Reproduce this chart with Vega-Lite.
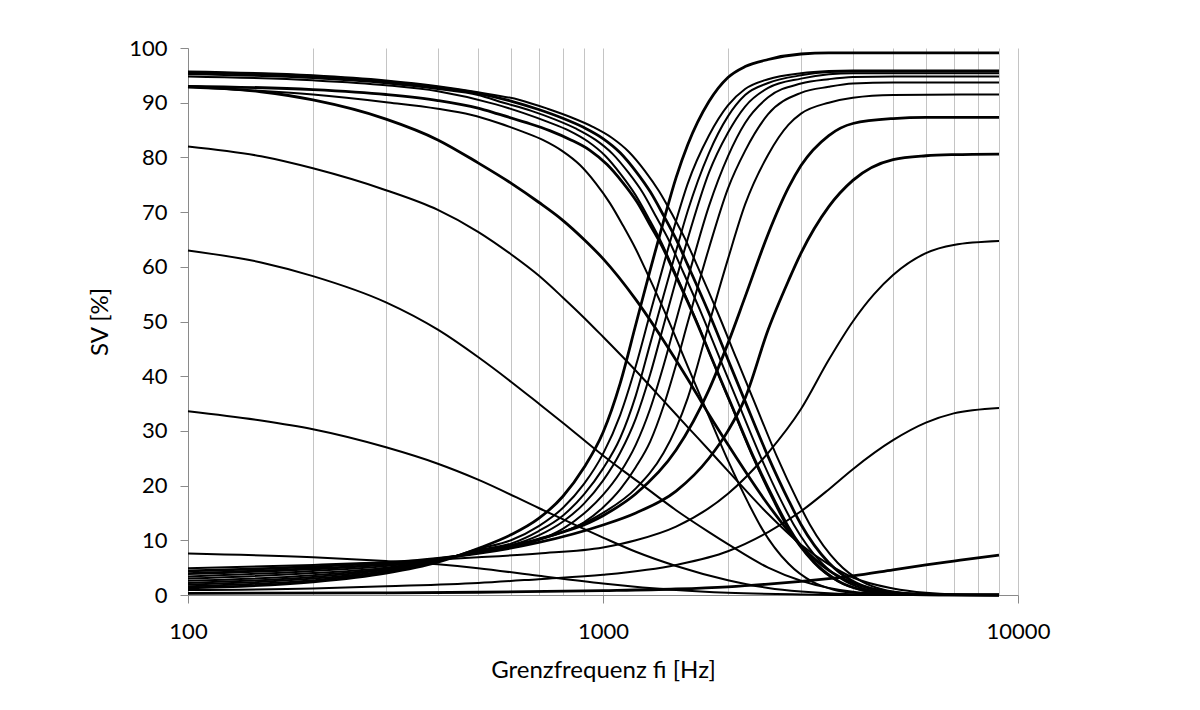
{
  "$schema": "https://vega.github.io/schema/vega-lite/v6.json",
  "width": 830,
  "height": 547,
  "autosize": "none",
  "padding": {"left": 188, "top": 48, "right": 182, "bottom": 115},
  "background": "white",
  "config": {"view": {"stroke": null}, "font": "Lato"},
  "data": {"values": [
    {"s":"I1","f":100,"v":1.3},{"s":"I1","f":200,"v":2.4},{"s":"I1","f":300,"v":4.0},{"s":"I1","f":400,"v":6.0},{"s":"I1","f":500,"v":8.5},{"s":"I1","f":600,"v":11},{"s":"I1","f":700,"v":14},{"s":"I1","f":800,"v":18},{"s":"I1","f":900,"v":23.3},{"s":"I1","f":1000,"v":29.7},{"s":"I1","f":1100,"v":38.7},{"s":"I1","f":1200,"v":49.5},{"s":"I1","f":1300,"v":59.5},{"s":"I1","f":1400,"v":68.4},{"s":"I1","f":1500,"v":76.3},{"s":"I1","f":1600,"v":82.3},{"s":"I1","f":1800,"v":90.2},{"s":"I1","f":2000,"v":94.6},{"s":"I1","f":2200,"v":96.6},{"s":"I1","f":2500,"v":97.9},{"s":"I1","f":3000,"v":98.9},{"s":"I1","f":3500,"v":99.1},{"s":"I1","f":5000,"v":99.1},{"s":"I1","f":9000,"v":99.1},
    {"s":"I2","f":100,"v":1.6},{"s":"I2","f":200,"v":2.7},{"s":"I2","f":300,"v":4.2},{"s":"I2","f":400,"v":6.1},{"s":"I2","f":500,"v":8.4},{"s":"I2","f":600,"v":10.0},{"s":"I2","f":700,"v":12.6},{"s":"I2","f":800,"v":15.9},{"s":"I2","f":900,"v":20.3},{"s":"I2","f":1000,"v":25.8},{"s":"I2","f":1100,"v":32.9},{"s":"I2","f":1200,"v":41.9},{"s":"I2","f":1300,"v":51.6},{"s":"I2","f":1400,"v":60.4},{"s":"I2","f":1500,"v":68.4},{"s":"I2","f":1600,"v":75.2},{"s":"I2","f":1800,"v":84.0},{"s":"I2","f":2000,"v":89.5},{"s":"I2","f":2200,"v":92.5},{"s":"I2","f":2500,"v":94.3},{"s":"I2","f":3000,"v":95.4},{"s":"I2","f":3500,"v":95.8},{"s":"I2","f":4000,"v":95.9},{"s":"I2","f":9000,"v":95.9},
    {"s":"I3","f":100,"v":1.9},{"s":"I3","f":200,"v":3.0},{"s":"I3","f":300,"v":4.4},{"s":"I3","f":400,"v":6.2},{"s":"I3","f":500,"v":8.2},{"s":"I3","f":600,"v":9.4},{"s":"I3","f":700,"v":11.7},{"s":"I3","f":800,"v":14.5},{"s":"I3","f":900,"v":18.4},{"s":"I3","f":1000,"v":23.1},{"s":"I3","f":1100,"v":28.7},{"s":"I3","f":1200,"v":36.5},{"s":"I3","f":1300,"v":46.0},{"s":"I3","f":1400,"v":54.8},{"s":"I3","f":1500,"v":62.9},{"s":"I3","f":1600,"v":70.2},{"s":"I3","f":1800,"v":80.8},{"s":"I3","f":2000,"v":87.5},{"s":"I3","f":2200,"v":91.4},{"s":"I3","f":2500,"v":93.6},{"s":"I3","f":3000,"v":95.0},{"s":"I3","f":3500,"v":95.6},{"s":"I3","f":4000,"v":95.7},{"s":"I3","f":9000,"v":95.7},
    {"s":"I4","f":100,"v":2.2},{"s":"I4","f":200,"v":3.3},{"s":"I4","f":300,"v":4.6},{"s":"I4","f":400,"v":6.3},{"s":"I4","f":500,"v":8.1},{"s":"I4","f":600,"v":9.1},{"s":"I4","f":700,"v":10.9},{"s":"I4","f":800,"v":13.4},{"s":"I4","f":900,"v":16.7},{"s":"I4","f":1000,"v":20.9},{"s":"I4","f":1100,"v":26.0},{"s":"I4","f":1200,"v":32.3},{"s":"I4","f":1300,"v":40.4},{"s":"I4","f":1400,"v":49.3},{"s":"I4","f":1500,"v":57.6},{"s":"I4","f":1600,"v":65.1},{"s":"I4","f":1800,"v":77.2},{"s":"I4","f":2000,"v":84.5},{"s":"I4","f":2200,"v":89.3},{"s":"I4","f":2500,"v":92.7},{"s":"I4","f":3000,"v":94.4},{"s":"I4","f":3500,"v":95.2},{"s":"I4","f":4000,"v":95.4},{"s":"I4","f":9000,"v":95.4},
    {"s":"I5","f":100,"v":2.6},{"s":"I5","f":200,"v":3.6},{"s":"I5","f":300,"v":4.8},{"s":"I5","f":400,"v":6.3},{"s":"I5","f":500,"v":8.0},{"s":"I5","f":600,"v":8.9},{"s":"I5","f":700,"v":10.1},{"s":"I5","f":800,"v":12.1},{"s":"I5","f":900,"v":14.9},{"s":"I5","f":1000,"v":18.3},{"s":"I5","f":1100,"v":22.4},{"s":"I5","f":1200,"v":27.5},{"s":"I5","f":1300,"v":34.1},{"s":"I5","f":1400,"v":42.0},{"s":"I5","f":1500,"v":50.2},{"s":"I5","f":1600,"v":57.8},{"s":"I5","f":1800,"v":71.1},{"s":"I5","f":2000,"v":80.2},{"s":"I5","f":2200,"v":86.3},{"s":"I5","f":2500,"v":91.0},{"s":"I5","f":3000,"v":93.5},{"s":"I5","f":3500,"v":94.3},{"s":"I5","f":4000,"v":94.7},{"s":"I5","f":5000,"v":94.8},{"s":"I5","f":9000,"v":94.8},
    {"s":"I6","f":100,"v":3.0},{"s":"I6","f":200,"v":4.0},{"s":"I6","f":300,"v":5.0},{"s":"I6","f":400,"v":6.4},{"s":"I6","f":500,"v":7.9},{"s":"I6","f":600,"v":8.9},{"s":"I6","f":700,"v":10.1},{"s":"I6","f":800,"v":11.5},{"s":"I6","f":900,"v":13.3},{"s":"I6","f":1000,"v":16.0},{"s":"I6","f":1100,"v":19.3},{"s":"I6","f":1200,"v":23.4},{"s":"I6","f":1300,"v":28.1},{"s":"I6","f":1400,"v":34.6},{"s":"I6","f":1500,"v":42.1},{"s":"I6","f":1600,"v":49.8},{"s":"I6","f":1800,"v":63.4},{"s":"I6","f":2000,"v":74.3},{"s":"I6","f":2200,"v":81.2},{"s":"I6","f":2500,"v":87.9},{"s":"I6","f":3000,"v":91.8},{"s":"I6","f":3500,"v":92.9},{"s":"I6","f":4000,"v":93.5},{"s":"I6","f":5000,"v":93.7},{"s":"I6","f":9000,"v":93.7},
    {"s":"I7","f":100,"v":3.4},{"s":"I7","f":200,"v":4.4},{"s":"I7","f":300,"v":5.3},{"s":"I7","f":400,"v":6.5},{"s":"I7","f":500,"v":7.9},{"s":"I7","f":700,"v":10.2},{"s":"I7","f":1000,"v":15},{"s":"I7","f":1200,"v":19.5},{"s":"I7","f":1400,"v":26},{"s":"I7","f":1500,"v":30.5},{"s":"I7","f":1600,"v":36},{"s":"I7","f":1800,"v":49.5},{"s":"I7","f":2000,"v":61.4},{"s":"I7","f":2200,"v":71.4},{"s":"I7","f":2500,"v":80.5},{"s":"I7","f":2800,"v":86},{"s":"I7","f":3000,"v":88},{"s":"I7","f":3500,"v":90},{"s":"I7","f":4000,"v":90.9},{"s":"I7","f":5000,"v":91.4},{"s":"I7","f":9000,"v":91.5},
    {"s":"I8","f":100,"v":3.9},{"s":"I8","f":200,"v":4.8},{"s":"I8","f":300,"v":5.6},{"s":"I8","f":400,"v":6.6},{"s":"I8","f":500,"v":7.8},{"s":"I8","f":700,"v":10.2},{"s":"I8","f":1000,"v":14.5},{"s":"I8","f":1200,"v":18.5},{"s":"I8","f":1500,"v":26.5},{"s":"I8","f":1800,"v":37.5},{"s":"I8","f":2000,"v":46},{"s":"I8","f":2200,"v":54.5},{"s":"I8","f":2500,"v":66},{"s":"I8","f":2800,"v":74.5},{"s":"I8","f":3000,"v":78.5},{"s":"I8","f":3500,"v":84},{"s":"I8","f":4000,"v":86.2},{"s":"I8","f":5000,"v":87.1},{"s":"I8","f":6000,"v":87.3},{"s":"I8","f":9000,"v":87.3},
    {"s":"I9","f":100,"v":4.4},{"s":"I9","f":200,"v":5.2},{"s":"I9","f":300,"v":5.9},{"s":"I9","f":400,"v":6.7},{"s":"I9","f":500,"v":7.6},{"s":"I9","f":700,"v":9.6},{"s":"I9","f":1000,"v":12.8},{"s":"I9","f":1200,"v":15},{"s":"I9","f":1500,"v":19},{"s":"I9","f":1800,"v":25},{"s":"I9","f":2000,"v":30},{"s":"I9","f":2200,"v":36},{"s":"I9","f":2500,"v":48.5},{"s":"I9","f":2800,"v":57.5},{"s":"I9","f":3000,"v":62.5},{"s":"I9","f":3500,"v":71},{"s":"I9","f":4000,"v":75.8},{"s":"I9","f":5000,"v":79.6},{"s":"I9","f":6000,"v":80.3},{"s":"I9","f":7000,"v":80.5},{"s":"I9","f":9000,"v":80.6},
    {"s":"I10","f":100,"v":4.9},{"s":"I10","f":200,"v":5.5},{"s":"I10","f":300,"v":6.0},{"s":"I10","f":400,"v":6.5},{"s":"I10","f":500,"v":6.9},{"s":"I10","f":700,"v":7.6},{"s":"I10","f":1000,"v":8.7},{"s":"I10","f":1200,"v":10},{"s":"I10","f":1500,"v":12.5},{"s":"I10","f":2000,"v":18.5},{"s":"I10","f":2500,"v":26},{"s":"I10","f":3000,"v":34},{"s":"I10","f":3500,"v":43},{"s":"I10","f":4000,"v":50},{"s":"I10","f":4500,"v":55},{"s":"I10","f":5000,"v":58.5},{"s":"I10","f":6000,"v":62.5},{"s":"I10","f":7000,"v":64},{"s":"I10","f":9000,"v":64.7},
    {"s":"I11","f":100,"v":0.9},{"s":"I11","f":200,"v":1.2},{"s":"I11","f":300,"v":1.6},{"s":"I11","f":500,"v":2.2},{"s":"I11","f":700,"v":2.9},{"s":"I11","f":1000,"v":3.7},{"s":"I11","f":1500,"v":5.5},{"s":"I11","f":2000,"v":8},{"s":"I11","f":2500,"v":11.5},{"s":"I11","f":3000,"v":15.3},{"s":"I11","f":3500,"v":19.3},{"s":"I11","f":4000,"v":23},{"s":"I11","f":5000,"v":28.3},{"s":"I11","f":6000,"v":31.5},{"s":"I11","f":7000,"v":33.2},{"s":"I11","f":9000,"v":34.2},
    {"s":"I12","f":100,"v":0.3},{"s":"I12","f":300,"v":0.4},{"s":"I12","f":500,"v":0.5},{"s":"I12","f":1000,"v":0.8},{"s":"I12","f":1500,"v":1.1},{"s":"I12","f":2000,"v":1.5},{"s":"I12","f":2500,"v":2},{"s":"I12","f":3000,"v":2.5},{"s":"I12","f":3500,"v":3},{"s":"I12","f":4000,"v":3.5},{"s":"I12","f":5000,"v":4.6},{"s":"I12","f":6000,"v":5.5},{"s":"I12","f":7000,"v":6.2},{"s":"I12","f":8000,"v":6.8},{"s":"I12","f":9000,"v":7.3},
    {"s":"D1","f":100,"v":95.7},{"s":"D1","f":200,"v":95.0},{"s":"D1","f":300,"v":94.05},{"s":"D1","f":400,"v":93.0},{"s":"D1","f":500,"v":91.9},{"s":"D1","f":630,"v":90.5},{"s":"D1","f":735,"v":88.9},{"s":"D1","f":840,"v":87.3},{"s":"D1","f":945,"v":85.6},{"s":"D1","f":1050,"v":83.6},{"s":"D1","f":1155,"v":81.0},{"s":"D1","f":1260,"v":77.6},{"s":"D1","f":1365,"v":73.8},{"s":"D1","f":1470,"v":69.5},{"s":"D1","f":1575,"v":65.2},{"s":"D1","f":1680,"v":60.5},{"s":"D1","f":1890,"v":51.6},{"s":"D1","f":2100,"v":43.1},{"s":"D1","f":2310,"v":35.5},{"s":"D1","f":2625,"v":25.3},{"s":"D1","f":2940,"v":17.3},{"s":"D1","f":3150,"v":12.9},{"s":"D1","f":3675,"v":5.9},{"s":"D1","f":4200,"v":2.5},{"s":"D1","f":4725,"v":1.0},{"s":"D1","f":5250,"v":0.4},{"s":"D1","f":6300,"v":0.07},{"s":"D1","f":7350,"v":0.01},{"s":"D1","f":9000,"v":0},
    {"s":"D2","f":100,"v":95.5},{"s":"D2","f":150,"v":95.2},{"s":"D2","f":200,"v":94.8},{"s":"D2","f":300,"v":93.85},{"s":"D2","f":400,"v":92.8},{"s":"D2","f":500,"v":91.7},{"s":"D2","f":600,"v":90.3},{"s":"D2","f":700,"v":88.75},{"s":"D2","f":800,"v":87.15},{"s":"D2","f":900,"v":85.45},{"s":"D2","f":1000,"v":83.45},{"s":"D2","f":1100,"v":80.85},{"s":"D2","f":1200,"v":77.45},{"s":"D2","f":1300,"v":73.7},{"s":"D2","f":1400,"v":69.35},{"s":"D2","f":1500,"v":65.05},{"s":"D2","f":1600,"v":60.35},{"s":"D2","f":1800,"v":51.55},{"s":"D2","f":2000,"v":43.05},{"s":"D2","f":2200,"v":35.4},{"s":"D2","f":2500,"v":25.3},{"s":"D2","f":2800,"v":17.3},{"s":"D2","f":3000,"v":12.9},{"s":"D2","f":3500,"v":5.9},{"s":"D2","f":4000,"v":2.5},{"s":"D2","f":4500,"v":1.0},{"s":"D2","f":5000,"v":0.4},{"s":"D2","f":6000,"v":0.07},{"s":"D2","f":7000,"v":0.01},{"s":"D2","f":9000,"v":0},
    {"s":"D3","f":100,"v":95.2},{"s":"D3","f":200,"v":94.5},{"s":"D3","f":300,"v":93.55},{"s":"D3","f":400,"v":92.5},{"s":"D3","f":500,"v":91.4},{"s":"D3","f":576,"v":90.0},{"s":"D3","f":672,"v":88.5},{"s":"D3","f":768,"v":86.9},{"s":"D3","f":864,"v":85.2},{"s":"D3","f":960,"v":83.2},{"s":"D3","f":1056,"v":80.6},{"s":"D3","f":1152,"v":77.2},{"s":"D3","f":1248,"v":73.5},{"s":"D3","f":1344,"v":69.1},{"s":"D3","f":1440,"v":64.9},{"s":"D3","f":1536,"v":60.2},{"s":"D3","f":1728,"v":51.4},{"s":"D3","f":1920,"v":42.9},{"s":"D3","f":2112,"v":35.3},{"s":"D3","f":2400,"v":25.2},{"s":"D3","f":2688,"v":17.2},{"s":"D3","f":2880,"v":12.9},{"s":"D3","f":3360,"v":5.9},{"s":"D3","f":3840,"v":2.5},{"s":"D3","f":4320,"v":1.0},{"s":"D3","f":4800,"v":0.4},{"s":"D3","f":5760,"v":0.07},{"s":"D3","f":6720,"v":0.01},{"s":"D3","f":9000,"v":0},
    {"s":"D4","f":100,"v":94.8},{"s":"D4","f":200,"v":94.1},{"s":"D4","f":300,"v":93.2},{"s":"D4","f":400,"v":92.1},{"s":"D4","f":552,"v":89.7},{"s":"D4","f":644,"v":88.1},{"s":"D4","f":736,"v":86.5},{"s":"D4","f":828,"v":84.9},{"s":"D4","f":920,"v":82.9},{"s":"D4","f":1012,"v":80.3},{"s":"D4","f":1104,"v":76.9},{"s":"D4","f":1196,"v":73.2},{"s":"D4","f":1288,"v":68.9},{"s":"D4","f":1380,"v":64.6},{"s":"D4","f":1472,"v":59.9},{"s":"D4","f":1656,"v":51.2},{"s":"D4","f":1840,"v":42.7},{"s":"D4","f":2024,"v":35.2},{"s":"D4","f":2300,"v":25.1},{"s":"D4","f":2576,"v":17.2},{"s":"D4","f":2760,"v":12.8},{"s":"D4","f":3220,"v":5.9},{"s":"D4","f":3680,"v":2.5},{"s":"D4","f":4140,"v":1.0},{"s":"D4","f":4600,"v":0.4},{"s":"D4","f":5520,"v":0.07},{"s":"D4","f":6440,"v":0.01},{"s":"D4","f":9000,"v":0},
    {"s":"D5","f":100,"v":93.0},{"s":"D5","f":200,"v":92.4},{"s":"D5","f":300,"v":91.5},{"s":"D5","f":400,"v":90.4},{"s":"D5","f":500,"v":89.0},{"s":"D5","f":558,"v":87.95},{"s":"D5","f":651,"v":86.4},{"s":"D5","f":744,"v":84.9},{"s":"D5","f":837,"v":83.2},{"s":"D5","f":930,"v":81.3},{"s":"D5","f":1023,"v":78.7},{"s":"D5","f":1116,"v":75.4},{"s":"D5","f":1209,"v":71.8},{"s":"D5","f":1302,"v":67.5},{"s":"D5","f":1395,"v":63.4},{"s":"D5","f":1488,"v":58.8},{"s":"D5","f":1674,"v":50.2},{"s":"D5","f":1860,"v":41.9},{"s":"D5","f":2046,"v":34.5},{"s":"D5","f":2325,"v":24.6},{"s":"D5","f":2604,"v":16.9},{"s":"D5","f":2790,"v":12.6},{"s":"D5","f":3255,"v":5.75},{"s":"D5","f":3720,"v":2.4},{"s":"D5","f":4185,"v":0.97},{"s":"D5","f":4650,"v":0.39},{"s":"D5","f":5580,"v":0.07},{"s":"D5","f":6510,"v":0.01},{"s":"D5","f":9000,"v":0},
    {"s":"D6","f":100,"v":92.8},{"s":"D6","f":200,"v":91.5},{"s":"D6","f":300,"v":90.1},{"s":"D6","f":400,"v":88.9},{"s":"D6","f":480,"v":87.8},{"s":"D6","f":560,"v":86.3},{"s":"D6","f":640,"v":84.7},{"s":"D6","f":720,"v":83.1},{"s":"D6","f":800,"v":81.1},{"s":"D6","f":880,"v":78.6},{"s":"D6","f":960,"v":75.3},{"s":"D6","f":1040,"v":71.6},{"s":"D6","f":1120,"v":67.4},{"s":"D6","f":1200,"v":63.2},{"s":"D6","f":1280,"v":58.7},{"s":"D6","f":1440,"v":50.1},{"s":"D6","f":1600,"v":41.8},{"s":"D6","f":1760,"v":34.4},{"s":"D6","f":2000,"v":24.6},{"s":"D6","f":2240,"v":16.8},{"s":"D6","f":2400,"v":12.5},{"s":"D6","f":2800,"v":5.7},{"s":"D6","f":3200,"v":2.4},{"s":"D6","f":3600,"v":0.97},{"s":"D6","f":4000,"v":0.39},{"s":"D6","f":4800,"v":0.07},{"s":"D6","f":5600,"v":0.01},{"s":"D6","f":9000,"v":0},
    {"s":"D7","f":100,"v":93},{"s":"D7","f":150,"v":92},{"s":"D7","f":200,"v":90.5},{"s":"D7","f":300,"v":87},{"s":"D7","f":400,"v":83.2},{"s":"D7","f":500,"v":79},{"s":"D7","f":600,"v":75.3},{"s":"D7","f":700,"v":71.8},{"s":"D7","f":800,"v":68.5},{"s":"D7","f":900,"v":65},{"s":"D7","f":1000,"v":61.5},{"s":"D7","f":1200,"v":54},{"s":"D7","f":1400,"v":46.5},{"s":"D7","f":1600,"v":39.5},{"s":"D7","f":1800,"v":33},{"s":"D7","f":2000,"v":27.5},{"s":"D7","f":2500,"v":16.5},{"s":"D7","f":3000,"v":9},{"s":"D7","f":3500,"v":4.5},{"s":"D7","f":4000,"v":2.2},{"s":"D7","f":5000,"v":0.5},{"s":"D7","f":6000,"v":0.1},{"s":"D7","f":9000,"v":0},
    {"s":"D8","f":100,"v":82},{"s":"D8","f":150,"v":80.2},{"s":"D8","f":200,"v":78},{"s":"D8","f":300,"v":74},{"s":"D8","f":400,"v":70.4},{"s":"D8","f":500,"v":66.4},{"s":"D8","f":600,"v":62.3},{"s":"D8","f":700,"v":58.4},{"s":"D8","f":800,"v":54.4},{"s":"D8","f":900,"v":50.7},{"s":"D8","f":1000,"v":47.2},{"s":"D8","f":1200,"v":41.0},{"s":"D8","f":1400,"v":35.5},{"s":"D8","f":1600,"v":30.7},{"s":"D8","f":1800,"v":26.5},{"s":"D8","f":2000,"v":22.7},{"s":"D8","f":2500,"v":14.8},{"s":"D8","f":3000,"v":9.2},{"s":"D8","f":3500,"v":5.6},{"s":"D8","f":4000,"v":3.2},{"s":"D8","f":5000,"v":1.2},{"s":"D8","f":6000,"v":0.4},{"s":"D8","f":7000,"v":0.1},{"s":"D8","f":9000,"v":0},
    {"s":"D9","f":100,"v":63},{"s":"D9","f":150,"v":60.8},{"s":"D9","f":200,"v":58.3},{"s":"D9","f":300,"v":53.5},{"s":"D9","f":400,"v":48.5},{"s":"D9","f":500,"v":43.5},{"s":"D9","f":600,"v":39},{"s":"D9","f":700,"v":35},{"s":"D9","f":800,"v":31.5},{"s":"D9","f":1000,"v":25.5},{"s":"D9","f":1200,"v":21},{"s":"D9","f":1500,"v":15.5},{"s":"D9","f":1800,"v":11.5},{"s":"D9","f":2000,"v":9.3},{"s":"D9","f":2500,"v":5},{"s":"D9","f":3000,"v":2.6},{"s":"D9","f":3500,"v":1.3},{"s":"D9","f":4000,"v":0.6},{"s":"D9","f":5000,"v":0.15},{"s":"D9","f":6000,"v":0},{"s":"D9","f":9000,"v":0},
    {"s":"D10","f":100,"v":33.6},{"s":"D10","f":150,"v":31.9},{"s":"D10","f":200,"v":30.3},{"s":"D10","f":300,"v":27.0},{"s":"D10","f":400,"v":24.0},{"s":"D10","f":500,"v":21.1},{"s":"D10","f":700,"v":15.9},{"s":"D10","f":1000,"v":10.5},{"s":"D10","f":1200,"v":7.9},{"s":"D10","f":1500,"v":5.3},{"s":"D10","f":2000,"v":2.7},{"s":"D10","f":2500,"v":1.3},{"s":"D10","f":3000,"v":0.64},{"s":"D10","f":4000,"v":0.12},{"s":"D10","f":5000,"v":0},{"s":"D10","f":9000,"v":0},
    {"s":"D11","f":100,"v":7.6},{"s":"D11","f":200,"v":6.9},{"s":"D11","f":300,"v":6.2},{"s":"D11","f":400,"v":5.6},{"s":"D11","f":500,"v":4.9},{"s":"D11","f":700,"v":3.5},{"s":"D11","f":1000,"v":2.1},{"s":"D11","f":1500,"v":0.9},{"s":"D11","f":2000,"v":0.4},{"s":"D11","f":3000,"v":0.1},{"s":"D11","f":4000,"v":0},{"s":"D11","f":9000,"v":0}
  ]},
  "encoding": {
    "x": {
      "field": "f", "type": "quantitative",
      "scale": {"type": "log", "domain": [100, 10000], "nice": false},
      "axis": {
        "values": [100,200,300,400,500,600,700,800,900,1000,2000,3000,4000,5000,6000,7000,8000,9000,10000],
        "grid": true, "gridColor": "#c4c4c4", "gridWidth": 1,
        "domainColor": "#8a8a8a", "tickColor": "#8a8a8a", "tickSize": 8,
        "tickOpacity": {"condition": {"test": "indexof([100,1000,10000], datum.value) >= 0", "value": 1}, "value": 0},
        "format": "d",
        "labelExpr": "indexof([100,1000,10000], datum.value) >= 0 ? datum.label : ''",
        "labelFontSize": 22, "labelColor": "#000000", "labelPadding": 18,
        "labelFlush": false, "labelOverlap": false,
        "title": "Grenzfrequenz fi [Hz]", "titleFontSize": 24, "titleFontWeight": "normal",
        "titleColor": "#000000", "titlePadding": 16
      }
    },
    "y": {
      "field": "v", "type": "quantitative",
      "scale": {"domain": [0, 100], "nice": false},
      "axis": {
        "values": [0,10,20,30,40,50,60,70,80,90,100],
        "grid": false, "domainColor": "#8a8a8a", "tickColor": "#8a8a8a", "tickSize": 8,
        "labelFontSize": 22, "labelColor": "#000000", "labelPadding": 13,
        "title": "SV [%]", "titleFontSize": 24, "titleFontWeight": "normal",
        "titleColor": "#000000", "titlePadding": 16
      }
    },
    "detail": {"field": "s"}
  },
  "layer": [
    {
      "transform": [{"filter": {"not": {"field": "s", "oneOf": ["I1","I8","I9","I12","D5","D7","D2"]}}}],
      "mark": {"type": "line", "interpolate": "monotone", "color": "#000000", "strokeWidth": 2}
    },
    {
      "transform": [{"filter": {"field": "s", "oneOf": ["I1","I8","I9","I12","D5","D7","D2"]}}],
      "mark": {"type": "line", "interpolate": "monotone", "color": "#000000", "strokeWidth": 2.8}
    }
  ]
}
